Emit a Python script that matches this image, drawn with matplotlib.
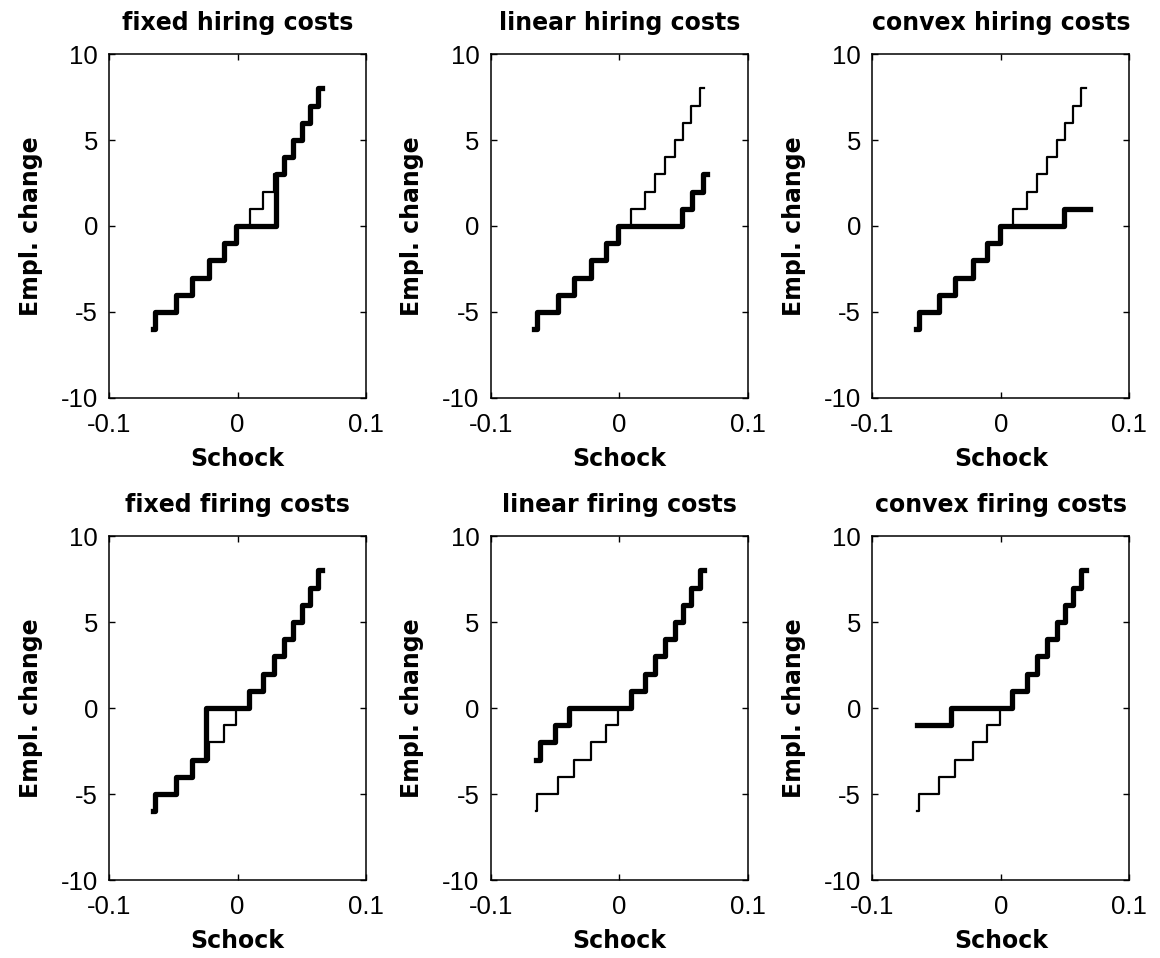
import matplotlib
matplotlib.use('Agg')
import matplotlib.pyplot as plt

# frictionless policy (thin line) - step edges and levels
free_x = [-0.065, -0.064, -0.048, -0.0355, -0.022, -0.0105, -0.001,
          0.0095, 0.020, 0.028, 0.036, 0.0435, 0.050, 0.056, 0.0625, 0.066]
free_y = [-6, -5, -4, -3, -2, -1, 0, 1, 2, 3, 4, 5, 6, 7, 8, 8]

# policies with adjustment costs (thick line)
fixed_hire_x = [-0.066, -0.064, -0.048, -0.0355, -0.022, -0.0105, -0.001,
                0.030, 0.036, 0.0435, 0.050, 0.056, 0.0625, 0.066]
fixed_hire_y = [-6, -5, -4, -3, -2, -1, 0, 3, 4, 5, 6, 7, 8, 8]

lin_hire_x = [-0.066, -0.064, -0.048, -0.0355, -0.022, -0.0105, -0.001,
              0.049, 0.057, 0.065, 0.068]
lin_hire_y = [-6, -5, -4, -3, -2, -1, 0, 1, 2, 3, 3]

conv_hire_x = [-0.066, -0.064, -0.048, -0.0355, -0.022, -0.0105, -0.001,
               0.049, 0.069]
conv_hire_y = [-6, -5, -4, -3, -2, -1, 0, 1, 1]

fixed_fire_x = [-0.066, -0.064, -0.048, -0.0355, -0.0245, 0.0088, 0.020,
                0.028, 0.036, 0.0435, 0.050, 0.056, 0.0625, 0.066]
fixed_fire_y = [-6, -5, -4, -3, 0, 1, 2, 3, 4, 5, 6, 7, 8, 8]

lin_fire_x = [-0.065, -0.062, -0.050, -0.039, 0.0088, 0.020, 0.028,
              0.036, 0.0435, 0.050, 0.056, 0.0625, 0.066]
lin_fire_y = [-3, -2, -1, 0, 1, 2, 3, 4, 5, 6, 7, 8, 8]

conv_fire_x = [-0.065, -0.039, 0.0088, 0.020, 0.028, 0.036, 0.0435,
               0.050, 0.056, 0.0625, 0.066]
conv_fire_y = [-1, 0, 1, 2, 3, 4, 5, 6, 7, 8, 8]

titles = ['fixed hiring costs', 'linear hiring costs', 'convex hiring costs',
          'fixed firing costs', 'linear firing costs', 'convex firing costs']
costly = [(fixed_hire_x, fixed_hire_y), (lin_hire_x, lin_hire_y),
          (conv_hire_x, conv_hire_y), (fixed_fire_x, fixed_fire_y),
          (lin_fire_x, lin_fire_y), (conv_fire_x, conv_fire_y)]

xticks = [-0.1, 0, 0.1]
xticklabels = ['-0.1', '0', '0.1']
yticks = [-10, -5, 0, 5, 10]
yticklabels = ['-10', '-5', '0', '5', '10']

bold = dict(family='DejaVu Sans', fontsize=17, fontweight='bold')

fig = plt.figure(figsize=(11.6, 9.58), dpi=100)

lefts = [0.094, 0.423, 0.752]
bottoms = [0.5846, 0.0814]
w, h = 0.2216, 0.359

for i in range(6):
    ax = fig.add_axes([lefts[i % 3], bottoms[i // 3], w, h])
    cx, cy = costly[i]
    ax.step(free_x, free_y, where='post', color='black', lw=1.6)
    ax.step(cx, cy, where='post', color='black', lw=3.8)
    ax.set_xlim(-0.1, 0.1)
    ax.set_ylim(-10, 10)
    ax.set_xticks(xticks)
    ax.set_xticklabels(xticklabels, family='Liberation Sans', fontsize=18.5)
    ax.set_yticks(yticks)
    ax.set_yticklabels(yticklabels, family='Liberation Sans', fontsize=18.5)
    ax.tick_params(direction='in', length=4.3, width=1, top=True, right=True)
    ax.tick_params(axis='x', pad=11)
    ax.tick_params(axis='y', pad=8)
    for s in ax.spines.values():
        s.set_linewidth(1.1)
    ax.set_title(titles[i], pad=17, **bold)
    ax.set_xlabel('Schock', labelpad=7, **bold)
    ax.set_ylabel('Empl. change', labelpad=13, **bold)

fig.savefig('out.png', dpi=100)
